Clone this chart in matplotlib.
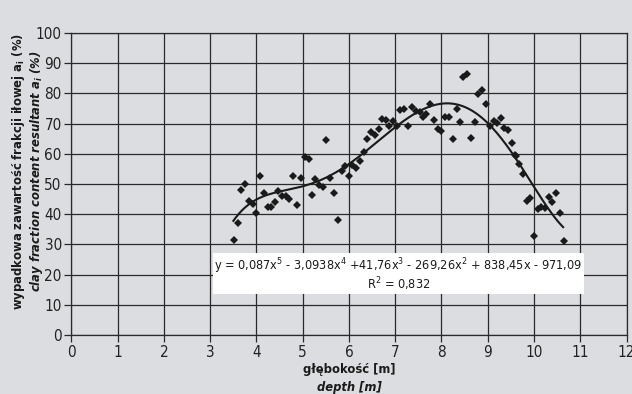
import numpy as np
import matplotlib
matplotlib.use("Agg")
import matplotlib.pyplot as plt
from matplotlib import font_manager as fm

names = {f.name for f in fm.fontManager.ttflist}
if 'Liberation Sans Narrow' in names:
    FAM = ['Liberation Sans Narrow', 'DejaVu Sans']
    STRETCH = 'normal'
else:
    FAM = ['DejaVu Sans']
    STRETCH = 'condensed'

plt.rcParams['font.family'] = FAM
plt.rcParams['font.stretch'] = STRETCH
plt.rcParams['mathtext.default'] = 'regular'

depth = [3.52, 3.61, 3.66, 3.75, 3.84, 3.92, 4.00, 4.08, 4.16, 4.24, 4.32, 4.41, 4.47,
         4.55, 4.63, 4.71, 4.80, 4.88, 4.96, 5.05, 5.13, 5.21, 5.27, 5.35, 5.44, 5.51,
         5.59, 5.68, 5.76, 5.84, 5.92, 6.00, 6.07, 6.15, 6.24, 6.32, 6.40, 6.48, 6.56,
         6.65, 6.72, 6.80, 6.87, 6.96, 7.04, 7.11, 7.19, 7.28, 7.36, 7.45, 7.54,
         7.60, 7.67, 7.75, 7.84, 7.92, 8.00, 8.08, 8.16, 8.24, 8.33, 8.41, 8.47, 8.56,
         8.64, 8.72, 8.80, 8.88, 8.96, 9.04, 9.13, 9.20, 9.28, 9.36, 9.44, 9.52, 9.58,
         9.62, 9.68, 9.77, 9.84, 9.92, 10.00, 10.08, 10.16, 10.24, 10.32, 10.40, 10.48,
         10.57, 10.65]
clay = [31.6, 37.0, 47.9, 49.9, 44.4, 43.3, 40.4, 52.5, 46.9, 42.5, 42.5, 44.1, 47.6,
        46.0, 46.0, 45.0, 52.6, 43.0, 52.0, 59.0, 58.4, 46.3, 51.7, 49.8, 48.9, 64.5,
        52.0, 47.0, 38.1, 54.2, 56.0, 52.5, 56.2, 55.3, 57.7, 60.7, 64.9, 67.2, 66.3,
        68.2, 71.4, 71.1, 69.1, 70.8, 69.1, 74.4, 74.7, 69.1, 75.4, 74.3, 73.7,
        72.1, 73.3, 76.6, 71.2, 68.1, 67.6, 72.1, 72.3, 64.8, 74.8, 70.5, 85.5, 86.5,
        65.1, 70.4, 79.9, 81.1, 76.4, 69.3, 70.9, 70.1, 72.0, 68.5, 68.0, 63.6, 59.7,
        59.4, 56.5, 53.3, 44.5, 45.5, 32.8, 41.8, 42.4, 42.2, 45.8, 44.0, 46.9,
        40.4, 31.1]

x_ticks = list(range(0, 13))
y_ticks = list(range(0, 101, 10))
equation = "y = 0,087x$^5$ - 3,0938x$^4$ +41,76x$^3$ - 269,26x$^2$ + 838,45x - 971,09"
r2_text = "R$^2$ = 0,832"

bg = '#dcdde0'
fig = plt.figure(figsize=(6.32, 3.94), dpi=100, facecolor=bg)
ax = fig.add_axes([0.1131, 0.1497, 0.9913 - 0.1131, 0.9162 - 0.1497])
ax.set_facecolor(bg)

ax.set_xlim(0, 12)
ax.set_ylim(0, 100)
ax.set_xticks(x_ticks)
ax.set_yticks(y_ticks)
ax.grid(True, color='#2a2a2a', linewidth=0.9)
ax.set_axisbelow(True)
for s in ax.spines.values():
    s.set_color('#2a2a2a')
    s.set_linewidth(0.9)
ax.tick_params(direction='out', length=5, width=0.9, color='#2a2a2a',
               labelsize=11, pad=2, labelcolor='#222222')

# trend line (5th-degree polynomial fit)
coef = np.polyfit(depth, clay, 5)
xs = np.linspace(3.5, 10.63, 300)
ax.plot(xs, np.polyval(coef, xs), color='#1a1a1a', linewidth=1.5, zorder=3)

ax.plot(depth, clay, linestyle='none', marker='D', markersize=3.6,
        color='#1a1a1a', markeredgewidth=0, zorder=4)

# equation box
fig.patches.append(plt.Rectangle((212.7 / 632, 1 - 294.3 / 394),
                                 (584.3 - 212.7) / 632, (294.3 - 253.3) / 394,
                                 transform=fig.transFigure, facecolor='white',
                                 edgecolor='none', zorder=5))
fig.text(398.5 / 632, 1 - 266.5 / 394, equation, ha='center', va='center',
         fontsize=9.1, color='#1a1a1a', zorder=6)
fig.text(398.5 / 632, 1 - 284.5 / 394, r2_text, ha='center', va='center',
         fontsize=9.1, color='#1a1a1a', zorder=6)

# axis labels
fig.text(19 / 632, 1 - 171 / 394, "wypadkowa zawartość frakcji iłowej a$_i$ (%)",
         rotation=90, ha='center', va='center', fontsize=9.3, fontweight='bold',
         color='#1a1a1a')
fig.text(37 / 632, 1 - 171 / 394, "clay fraction content resultant a$_i$ (%)",
         rotation=90, ha='center', va='center', fontsize=9.3, fontweight='bold',
         fontstyle='italic', color='#1a1a1a')
fig.text(349 / 632, 1 - 370 / 394, "głębokość [m]", ha='center', va='center',
         fontsize=9.3, fontweight='bold', color='#1a1a1a')
fig.text(349 / 632, 1 - 387 / 394, "depth [m]", ha='center', va='center',
         fontsize=9.3, fontweight='bold', fontstyle='italic', color='#1a1a1a')

fig.savefig('out.png', dpi=100, facecolor=bg)
